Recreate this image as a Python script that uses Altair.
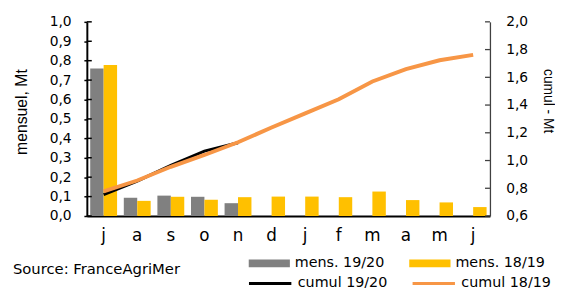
import altair as alt
import pandas as pd

# ---- data ----
months = ["juil", "août", "sept", "oct", "nov", "déc", "janv", "févr", "mars", "avr", "mai", "juin"]
series_mens = ["mens. 19/20", "mens. 18/19"]
series_cumul = ["cumul 19/20", "cumul 18/19"]
mens_1920 = [0.760, 0.094, 0.105, 0.099, 0.066]
mens_1819 = [0.778, 0.078, 0.099, 0.084, 0.097, 0.100, 0.100, 0.097, 0.126, 0.082, 0.070, 0.046]
cumul_1920 = [0.755, 0.852, 0.965, 1.068, 1.128]
cumul_1819 = [0.778, 0.856, 0.955, 1.040, 1.132, 1.238, 1.340, 1.442, 1.570, 1.659, 1.723, 1.762]
left_ticks = [0.0, 0.1, 0.2, 0.3, 0.4, 0.5, 0.6, 0.7, 0.8, 0.9, 1.0]
right_ticks = [0.6, 0.8, 1.0, 1.2, 1.4, 1.6, 1.8, 2.0]
source_text = ["Source: FranceAgriMer"]

GRAY, YELLOW, BLACK, ORANGE = "#808080", "#FFC000", "#000000", "#F79646"
W, H = 409, 197

bars_df = pd.DataFrame(
    [{"month": m, "serie": series_mens[0], "value": v} for m, v in zip(months, mens_1920)]
    + [{"month": m, "serie": series_mens[1], "value": v} for m, v in zip(months, mens_1819)]
)
c1920_df = pd.DataFrame({"month": months[:len(cumul_1920)], "serie": series_cumul[0], "value": cumul_1920})
c1819_df = pd.DataFrame({"month": months, "serie": series_cumul[1], "value": cumul_1819})
lt_df = pd.DataFrame({"value": left_ticks})
rt_df = pd.DataFrame({"value": right_ticks})
src_df = pd.DataFrame({"t": source_text})

comma = "replace(format(datum.value, '.1f'), '.', ',')"

x_enc = alt.X(
    "month:N", sort=months,
    scale=alt.Scale(paddingInner=0.2, paddingOuter=0.1),
    axis=alt.Axis(title=None, labelExpr="substring(datum.value, 0, 1)", labelAngle=0,
                  ticks=False, tickSize=0, labelPadding=12, domainColor="black", domainWidth=2,
                  labelFont="DejaVu Sans", labelFontSize=17, labelColor="black", grid=False),
)

left_scale = alt.Scale(domain=[0, 1], nice=False, zero=True)
left_axis = alt.Axis(
    orient="left", values=left_ticks, labelExpr=comma, grid=False,
    title="mensuel, Mt", titleFont="Liberation Sans", titleFontSize=16, titleFontWeight="normal",
    titleColor="black", titleAngle=270, titleX=-61, titleY=91, titleAlign="center",
    titleBaseline="alphabetic",
    labelFont="DejaVu Sans", labelFontSize=14, labelColor="black", labelPadding=13,
    tickSize=3, tickColor="black", tickWidth=1.5, domainColor="black", domainWidth=2,
)
right_scale = alt.Scale(domain=[0.6, 2.0], nice=False, zero=False)
right_axis = alt.Axis(
    orient="right", values=right_ticks, labelExpr=comma, grid=False,
    title="cumul - Mt", titleFont="Liberation Sans", titleFontSize=14, titleFontWeight="normal",
    titleColor="black", titleAngle=90, titleX=54, titleY=80, titleAlign="center",
    titleBaseline="alphabetic",
    labelFont="DejaVu Sans", labelFontSize=14, labelColor="black", labelPadding=16,
    ticks=False, tickSize=0, domainColor="#404040", domainWidth=1.3,
)

fill_legend = alt.Legend(
    title=None, orient="none", legendX=164, legendY=237, direction="horizontal", columns=2,
    columnPadding=25, rowPadding=0, padding=0, clipHeight=16, labelLimit=200,
    symbolType="M-1,-0.19L1,-0.19L1,0.19L-1,0.19Z", symbolSize=1764, symbolStrokeWidth=0,
    labelOffset=5, labelFont="DejaVu Sans", labelFontSize=14.5, labelColor="black",
)
stroke_legend = alt.Legend(
    title=None, orient="none", legendX=163, legendY=257.5, direction="horizontal", columns=2,
    columnPadding=24, rowPadding=0, padding=0, clipHeight=16, labelLimit=200,
    symbolType="stroke", symbolSize=1849, symbolStrokeWidth=3,
    labelOffset=5, labelFont="DejaVu Sans", labelFontSize=14.5, labelColor="black",
)

bars = alt.Chart(bars_df).mark_bar().encode(
    x=x_enc,
    xOffset=alt.XOffset("serie:N", sort=series_mens,
                        scale=alt.Scale(domain=series_mens, paddingInner=0, paddingOuter=0)),
    y=alt.Y("value:Q", scale=left_scale, axis=left_axis),
    fill=alt.Fill("serie:N", scale=alt.Scale(domain=series_mens, range=[GRAY, YELLOW]),
                  legend=fill_legend),
)
left_tick_marks = alt.Chart(lt_df).mark_rule(color="black", strokeWidth=1.5).encode(
    y=alt.Y("value:Q", scale=left_scale, axis=left_axis),
    x=alt.value(0), x2=alt.value(5),
)

stroke_enc = alt.Stroke("serie:N", scale=alt.Scale(domain=series_cumul, range=[BLACK, ORANGE]),
                        legend=stroke_legend)
line_1920 = alt.Chart(c1920_df).mark_line(strokeWidth=3).encode(
    x=x_enc, y=alt.Y("value:Q", scale=right_scale, axis=right_axis), stroke=stroke_enc)
line_1819 = alt.Chart(c1819_df).mark_line(strokeWidth=4).encode(
    x=x_enc, y=alt.Y("value:Q", scale=right_scale, axis=right_axis), stroke=stroke_enc)
right_tick_marks = alt.Chart(rt_df).mark_rule(color="#404040", strokeWidth=1.3).encode(
    y=alt.Y("value:Q", scale=right_scale, axis=right_axis),
    x=alt.value(W - 5), x2=alt.value(W),
)
source = alt.Chart(src_df).mark_text(
    align="left", baseline="alphabetic", font="DejaVu Sans", fontSize=15, color="black"
).encode(x=alt.value(-75), y=alt.value(256), text="t:N")

left = alt.layer(bars, left_tick_marks)
right = alt.layer(line_1920, line_1819, right_tick_marks, source)

chart = alt.layer(left, right).resolve_scale(y="independent").properties(
    width=W, height=H,
    autosize=alt.AutoSizeParams(type="none"),
    padding={"left": 80, "top": 12, "right": 66, "bottom": 71},
    background="white",
).configure_view(stroke=None)

chart.save("out.html", embed_options={"renderer": "svg", "actions": False})
